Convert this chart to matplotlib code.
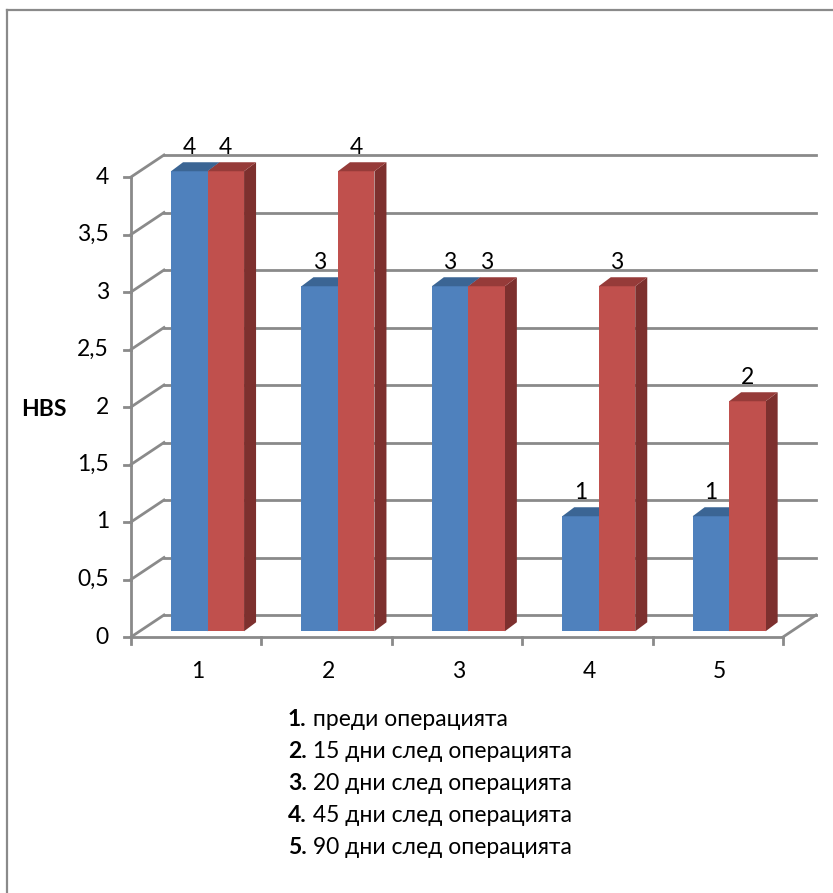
import matplotlib.pyplot as plt
from matplotlib.lines import Line2D
from matplotlib.patches import Polygon

# data
categories = ['1', '2', '3', '4', '5']
blue_vals = [4, 3, 3, 1, 1]
red_vals = [4, 4, 3, 3, 2]
y_ticks = [0, 0.5, 1, 1.5, 2, 2.5, 3, 3.5, 4]
y_tick_labels = ['0', '0,5', '1', '1,5', '2', '2,5', '3', '3,5', '4']
legend_nums = ['1.', '2.', '3.', '4.', '5.']
legend_texts = ['преди операцията', '15 дни след операцията', '20 дни след операцията',
                '45 дни след операцията', '90 дни след операцията']

plt.rcParams['font.family'] = ['Lato', 'Open Sans', 'DejaVu Sans']
FS = 16.5

W, H = 833, 893
fig = plt.figure(figsize=(W / 100, H / 100), dpi=100)
ax = fig.add_axes([0, 0, 1, 1])
ax.axis('off')

# pixel scale of the plot: one category = 130.4 px, one unit = 115 px
CAT, UNIT = 130.4, 115.0
X0, Y0 = 131, 637
ax.set_xlim(-X0 / CAT, (W - X0) / CAT)
ax.set_ylim((Y0 - H) / UNIT, Y0 / UNIT)

grid_c = '#8A8A8A'
dx, dy = 33 / CAT, 22 / UNIT          # back wall offset
n = len(categories)
x_end = n + dx

# back wall gridlines and left wall diagonals
for v in y_ticks:
    ax.plot([dx, x_end], [v + dy, v + dy], color=grid_c, lw=2, zorder=1)
    ax.plot([0, dx], [v, v + dy], color=grid_c, lw=2, zorder=1)
    ax.plot([-7 / CAT, 0], [v, v], color=grid_c, lw=2, zorder=1)
ax.plot([0, 0], [0, 4], color=grid_c, lw=2, zorder=1)
# floor
ax.plot([0, n], [0, 0], color=grid_c, lw=2, zorder=1)
ax.plot([n, x_end], [0, dy], color=grid_c, lw=2, zorder=1)
for i in range(n + 1):
    ax.plot([i, i], [0, -7 / UNIT], color=grid_c, lw=2, zorder=1)

for i, c in enumerate(categories):
    ax.text(i + 0.515, -35 / UNIT, c, ha='center', va='center', fontsize=FS)
for v, lab in zip(y_ticks, y_tick_labels):
    ax.text(-22 / CAT, v, lab, ha='right', va='center', fontsize=FS)
ax.text(-87 / CAT, 1.98, 'HBS', ha='center', va='center', fontsize=FS, fontweight='bold')

# 3D-looking bars
bw = 0.28
bx, by = 0.307, 0.05          # shift of the bar front face
sx, sy = 12 / CAT, 9 / UNIT   # bar depth
series = [(blue_vals, '#4F81BD', '#3B6594', '#385D8A'),
          (red_vals, '#C0504D', '#963B39', '#7D302E')]
for i in range(n):
    for k, (vals, front, top, side) in enumerate(series):
        x = i + bx + k * bw
        v = vals[i]
        ax.bar(x, v, width=bw, bottom=by, align='edge', color=front, zorder=3 + i * 3 + k)
        top_poly = [(x, v + by), (x + bw, v + by), (x + bw + sx, v + by + sy), (x + sx, v + by + sy)]
        ax.add_patch(Polygon(top_poly, closed=True, color=top, lw=0, zorder=3 + i * 3 + k))
        side_poly = [(x + bw, by), (x + bw, v + by), (x + bw + sx, v + by + sy), (x + bw + sx, by + sy)]
        ax.add_patch(Polygon(side_poly, closed=True, color=side, lw=0, zorder=2 + i * 3 + k))
        ax.text(x + bw / 2, v + by + 0.21, str(v), ha='center', va='center', fontsize=FS, zorder=30)

# legend text under the chart
for j, (num, txt) in enumerate(zip(legend_nums, legend_texts)):
    yv = (Y0 - (719 + j * 32.2)) / UNIT
    t = ax.text((288 - X0) / CAT, yv, num, ha='left', va='center', fontsize=FS, fontweight='bold')
    ax.annotate(' ' + txt, xy=(1, 0.5), xycoords=t, ha='left', va='center', fontsize=FS)

# outer frame (only left and top edges are visible)
fig.add_artist(Line2D([6.5 / W, 6.5 / W], [0, 1 - 9.5 / H], transform=fig.transFigure,
                      color=grid_c, lw=1.6))
fig.add_artist(Line2D([6.5 / W, 1], [1 - 9.5 / H, 1 - 9.5 / H], transform=fig.transFigure,
                      color=grid_c, lw=1.6))

fig.savefig('out.png', dpi=100, facecolor='white')
